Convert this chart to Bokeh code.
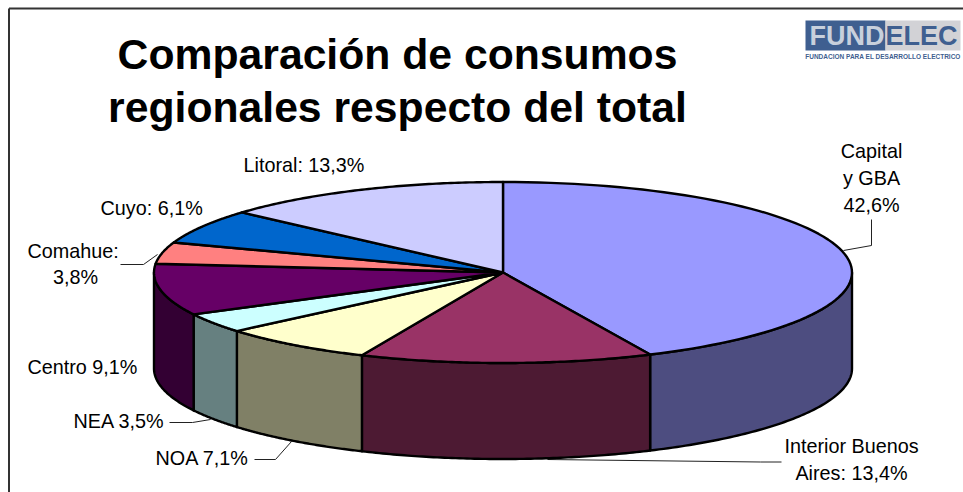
import numpy as np
from bokeh.plotting import figure
from bokeh.models import Range1d
from bokeh.core.properties import value
from bokeh.embed import file_html
from bokeh.resources import INLINE

title_lines = ["Comparación de consumos", "regionales respecto del total"]
categories = ["Capital y GBA", "Interior Buenos Aires", "NOA", "NEA", "Centro", "Comahue", "Cuyo", "Litoral"]
values = [42.6, 13.4, 7.1, 3.5, 9.1, 3.8, 6.1, 13.3]
top_colors = ["#9999FF", "#993366", "#FFFFCC", "#CCFFFF", "#660066", "#FF8080", "#0066CC", "#CCCCFF"]
side_colors = ["#4D4D80", "#4D1A33", "#808066", "#668080", "#330033", "#804040", "#003366", "#666680"]

CX, CY, RX, RY, DEPTH = 502.5, 272.0, 349.0, 90.5, 96.0
FONT = value("Liberation Sans")
INK = "#000000"

p = figure(width=963, height=492, x_range=Range1d(0, 963), y_range=Range1d(492, 0),
           toolbar_location=None, output_backend="svg", min_border=0,
           background_fill_color="white", border_fill_color="white", outline_line_color=None)
p.axis.visible = False
p.grid.visible = False

fr = np.array(values) / sum(values)
edges = np.concatenate([[0], np.cumsum(fr)]) * 2 * np.pi


def rim(a, b, n=80):
    t = np.linspace(a, b, n)
    return CX + RX * np.sin(t), CY - RY * np.cos(t)


# Leader lines sit beneath the pie
leaders = [
    ([843, 871, 871], [250, 245, 219]),
    ([547, 760, 781], [459, 461.5, 461.5]),
    ([291, 275, 254], [441, 459, 459]),
    ([210, 192, 169], [419, 422, 422]),
    ([157, 143, 120], [254, 264, 264]),
]
for lx, ly in leaders:
    p.line(lx, ly, line_color="#222222", line_width=1)

# Outer walls, front half of the pie only
for i, (a, b) in enumerate(zip(edges[:-1], edges[1:])):
    a2, b2 = max(a, np.pi / 2), min(b, 3 * np.pi / 2)
    if a2 >= b2:
        continue
    x, y = rim(a2, b2)
    p.patch(np.r_[x, x[::-1]], np.r_[y, y[::-1] + DEPTH], fill_color=side_colors[i],
            line_color=INK, line_width=2.4, line_join="round")

# Top faces
for i, (a, b) in enumerate(zip(edges[:-1], edges[1:])):
    x, y = rim(a, b)
    p.patch(np.r_[CX, x], np.r_[CY, y], fill_color=top_colors[i],
            line_color=INK, line_width=2.4, line_join="round")

# Frame
p.line([8.5, 8.5], [492, 8], line_color="#333333", line_width=2)
p.line([8.5, 963], [8, 8], line_color="#333333", line_width=2)

# Title
p.text([397, 397], [53, 106], text=title_lines, text_font=FONT, text_font_style="bold",
       text_font_size="42.7px", text_align="center", text_baseline="middle", text_color="#000000")

# Labels
labels = [
    ("Capital", 871, 150.5, "center"), ("y GBA", 871, 177.5, "center"), ("42,6%", 871, 204.5, "center"),
    ("Interior Buenos", 851, 445.5, "center"), ("Aires: 13,4%", 851, 472.5, "center"),
    ("NOA 7,1%", 155, 457.5, "left"), ("NEA 3,5%", 73, 420.5, "left"), ("Centro 9,1%", 27, 366.5, "left"),
    ("Comahue:", 27, 250.5, "left"), ("3,8%", 75, 276.5, "center"),
    ("Cuyo: 6,1%", 100, 207.5, "left"), ("Litoral: 13,3%", 243, 164.5, "left"),
]
for s, x, y, al in labels:
    p.text([x], [y], text=[s], text_font=FONT, text_font_size="19.8px", text_align=al,
           text_baseline="middle", text_color="#000000")

# Logo
p.quad(left=[805], right=[885], top=[20], bottom=[50], fill_color="#3F5F90", line_color=None)
p.quad(left=[885], right=[960], top=[20], bottom=[50], fill_color="#D2D2D6", line_color=None)
p.text([809], [35], text=["FUND"], text_font=FONT, text_font_style="bold", text_font_size="27px",
       text_baseline="middle", text_color="#C8D0DC")
p.text([885], [35], text=["ELEC"], text_font=FONT, text_font_style="bold", text_font_size="27px",
       text_baseline="middle", text_color="#3F5F90")
p.text([882.5], [56], text=["FUNDACION PARA EL DESARROLLO ELECTRICO"], text_font=FONT, text_font_style="bold",
       text_font_size="6.5px", text_align="center", text_baseline="middle", text_color="#3F5F90")

open("out.html", "w").write(file_html(p, INLINE))
